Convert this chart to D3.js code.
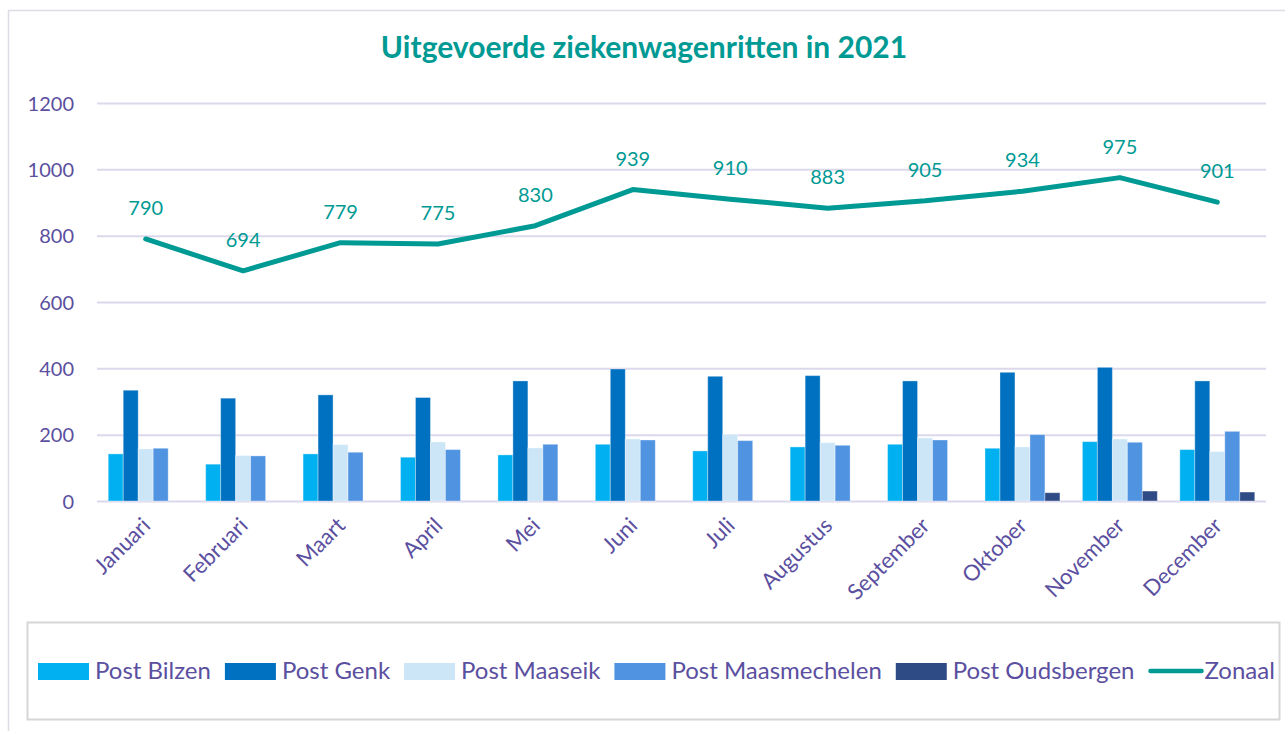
<!DOCTYPE html>
<html lang="nl">
<head>
<meta charset="UTF-8">
<title>Uitgevoerde ziekenwagenritten in 2021</title>
<script src="https://d3js.org/d3.v7.min.js"></script>
<style>
html,body{margin:0;padding:0;background:#fff}
svg{display:block;font-family:Lato,"Open Sans",sans-serif}
.grid line{stroke:#dcd8ec;stroke-width:2}
.grid path{display:none}
.yaxis text{fill:#5b4f9f;font-size:20px;font-family:Lato,"Open Sans",sans-serif}
.xaxis text{fill:#5b4f9f;font-size:22px;font-family:Lato,"Open Sans",sans-serif}
.yaxis path,.yaxis line,.xaxis path,.xaxis line{display:none}
.lbl{fill:#009a94;font-size:20px}
.legend text{fill:#5b4f9f;font-size:24px}
</style>
</head>
<body>
<svg id="chart" width="1285" height="731"></svg>
<script>
var months = ['Januari','Februari','Maart','April','Mei','Juni','Juli','Augustus','September','Oktober','November','December'];
var posts = ['Post Bilzen','Post Genk','Post Maaseik','Post Maasmechelen','Post Oudsbergen'];
var postColors = ['#00b0f0','#0070c0','#cce6f8','#4f93e1','#2f4b85'];

var bilzen       = [142, 111, 142, 132, 139, 171, 151, 163, 171, 159, 179, 155];
var genk         = [334, 310, 320, 312, 362, 398, 376, 378, 362, 388, 403, 362];
var maaseik      = [157, 137, 170, 178, 160, 187, 201, 176, 190, 163, 187, 149];
var maasmechelen = [159, 136, 147, 155, 171, 184, 182, 168, 184, 200, 177, 210];
var oudsbergen   = [0, 0, 0, 0, 0, 0, 0, 0, 0, 25, 30, 27];
var zonaal       = [790, 694, 779, 775, 830, 939, 910, 883, 905, 934, 975, 901];
var yTicks = [0, 200, 400, 600, 800, 1000, 1200];

var series = [bilzen, genk, maaseik, maasmechelen, oudsbergen];

var svg = d3.select('#chart');

// frames
svg.append('rect').attr('x', 8.5).attr('y', 10.5).attr('width', 1300).attr('height', 800)
  .attr('fill', 'none').attr('stroke', '#dcdce6').attr('stroke-width', 1.5);
svg.append('rect').attr('x', 27.5).attr('y', 622.5).attr('width', 1252).attr('height', 97)
  .attr('fill', '#fff').attr('stroke', '#d6d6d6').attr('stroke-width', 2);

// title
svg.append('text').attr('x', 644).attr('y', 58).attr('text-anchor', 'middle')
  .attr('fill', '#009a94').attr('font-size', '30px').attr('font-weight', 700)
  .text('Uitgevoerde ziekenwagenritten in 2021');

var plotLeft = 97, plotRight = 1266, plotTop = 103, plotBottom = 501;

var x = d3.scaleBand().domain(months).range([plotLeft, plotRight]);
var xs = d3.scaleBand().domain(d3.range(posts.length)).range([0, x.bandwidth()]).paddingOuter(0.75);
var y = d3.scaleLinear().domain([0, 1200]).range([plotBottom, plotTop]);

// grid
svg.append('g').attr('class', 'grid').attr('transform', 'translate(' + plotLeft + ',0)')
  .call(d3.axisLeft(y).tickValues(yTicks).tickSize(-(plotRight - plotLeft)).tickFormat(''));

// y axis labels
svg.append('g').attr('class', 'yaxis').attr('transform', 'translate(' + plotLeft + ',0)')
  .call(d3.axisLeft(y).tickValues(yTicks).tickSize(0).tickPadding(23).tickFormat(d3.format('d')))
  .selectAll('text').attr('dy', '0.35em');

// bars
var groups = svg.append('g').selectAll('g').data(months).join('g')
  .attr('transform', function(m) { return 'translate(' + x(m) + ',0)'; });

groups.selectAll('rect')
  .data(function(m, i) { return series.map(function(s, k) { return { k: k, v: s[i] }; }); })
  .join('rect')
  .attr('x', function(d) { return xs(d.k); })
  .attr('y', function(d) { return y(d.v); })
  .attr('width', xs.bandwidth())
  .attr('height', function(d) { return y(0) - y(d.v); })
  .attr('fill', function(d) { return postColors[d.k]; })
  .attr('stroke', function(d) { return d.v > 0 ? 'rgba(255,255,255,0.35)' : 'none'; })
  .attr('stroke-width', 1);

// line
var cx = function(d, i) { return x(months[i]) + x.bandwidth() / 2; };
svg.append('path').datum(zonaal)
  .attr('fill', 'none').attr('stroke', '#009a94').attr('stroke-width', 5)
  .attr('stroke-linecap', 'round').attr('stroke-linejoin', 'round')
  .attr('d', d3.line().x(cx).y(function(d) { return y(d); }));

svg.append('g').selectAll('text').data(zonaal).join('text')
  .attr('class', 'lbl')
  .attr('x', cx)
  .attr('y', function(d) { return y(d) - 24; })
  .attr('text-anchor', 'middle')
  .text(function(d) { return d; });

// x axis labels
svg.append('g').attr('class', 'xaxis').attr('transform', 'translate(0,' + plotBottom + ')')
  .call(d3.axisBottom(x).tickSize(0).tickPadding(0))
  .selectAll('text')
  .attr('text-anchor', 'end')
  .attr('dy', 0)
  .attr('transform', 'translate(6,26) rotate(-45)');

// legend
var legend = svg.append('g').attr('class', 'legend');
var lx = 38, ly = 671;
posts.concat(['Zonaal']).forEach(function(name, i) {
  var it = legend.append('g').attr('transform', 'translate(' + lx + ',0)');
  if (i < posts.length) {
    it.append('rect').attr('x', 0).attr('y', ly - 8).attr('width', 51).attr('height', 17).attr('fill', postColors[i]);
  } else {
    it.append('line').attr('x1', 2).attr('x2', 53).attr('y1', ly).attr('y2', ly)
      .attr('stroke', '#009a94').attr('stroke-width', 4.5).attr('stroke-linecap', 'round');
  }
  var t = it.append('text').attr('x', i < posts.length ? 57 : 56).attr('y', ly + 8).text(name);
  lx += 57 + t.node().getComputedTextLength() + 14;
});
</script>
</body>
</html>
